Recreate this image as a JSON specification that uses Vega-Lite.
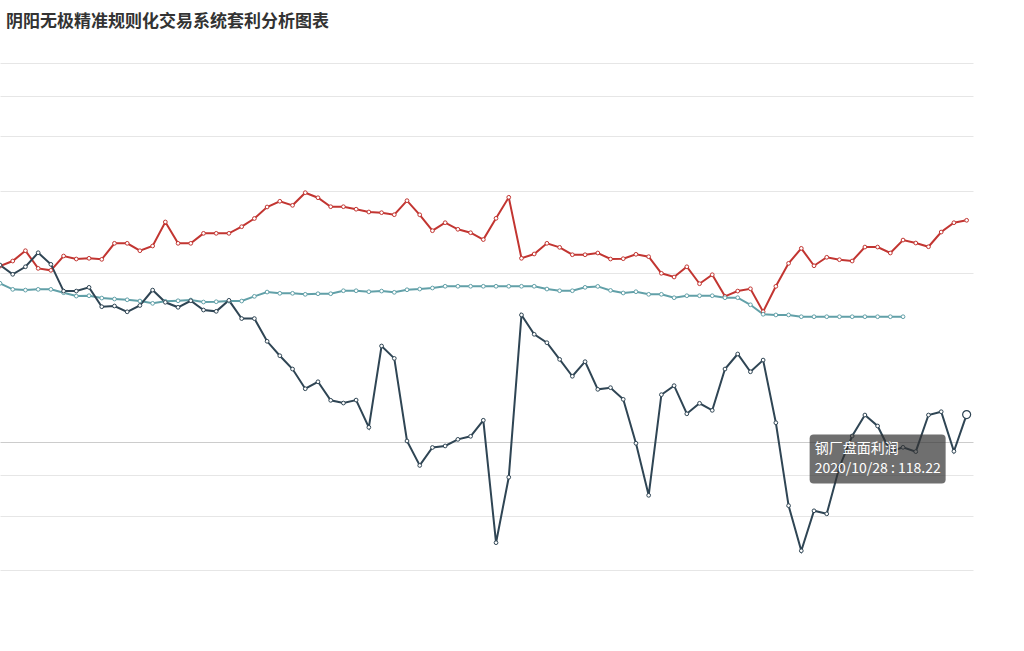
{
  "$schema": "https://vega.github.io/schema/vega-lite/v6.json",
  "width": 973,
  "height": 507,
  "autosize": {"type": "none"},
  "padding": {"left": 0, "top": 63, "right": 51, "bottom": 81},
  "background": "white",
  "config": {"font": "Noto Sans CJK SC", "view": {"stroke": null}},
  "title": {"text": "阴阳无极精准规则化交易系统套利分析图表", "anchor": "start", "frame": "group", "fontSize": 17, "fontWeight": "bold", "color": "#333333", "baseline": "bottom", "offset": 15, "dx": 6},
  "data": {"values": [
    {"d": "2020/07/06", "螺纹钢": 291.3, "钢厂成本": 262.4, "钢厂盘面利润": 293.2},
    {"d": "2020/07/07", "螺纹钢": 300.4, "钢厂成本": 252.9, "钢厂盘面利润": 277.1},
    {"d": "2020/07/08", "螺纹钢": 319.8, "钢厂成本": 251.8, "钢厂盘面利润": 290.1},
    {"d": "2020/07/09", "螺纹钢": 287.3, "钢厂成本": 252.9, "钢厂盘面利润": 315.9},
    {"d": "2020/07/10", "螺纹钢": 283.9, "钢厂成本": 252.9, "钢厂盘面利润": 294.4},
    {"d": "2020/07/13", "螺纹钢": 309.7, "钢厂成本": 247.8, "钢厂盘面利润": 250.3},
    {"d": "2020/07/14", "螺纹钢": 304.1, "钢厂成本": 242.8, "钢厂盘面利润": 250.3},
    {"d": "2020/07/15", "螺纹钢": 305.4, "钢厂成本": 243.3, "钢厂盘面利润": 256.0},
    {"d": "2020/07/16", "螺纹钢": 303.5, "钢厂成本": 239.9, "钢厂盘面利润": 227.6},
    {"d": "2020/07/17", "螺纹钢": 334.5, "钢厂成本": 238.5, "钢厂盘面利润": 228.6},
    {"d": "2020/07/20", "螺纹钢": 334.5, "钢厂成本": 237.4, "钢厂盘面利润": 220.7},
    {"d": "2020/07/21", "螺纹钢": 319.8, "钢厂成本": 235.6, "钢厂盘面利润": 229.3},
    {"d": "2020/07/22", "螺纹钢": 329.1, "钢厂成本": 232.3, "钢厂盘面利润": 251.8},
    {"d": "2020/07/23", "螺纹钢": 380.8, "钢厂成本": 235.2, "钢厂盘面利润": 233.8},
    {"d": "2020/07/24", "螺纹钢": 334.5, "钢厂成本": 236.0, "钢厂盘面利润": 226.8},
    {"d": "2020/07/27", "螺纹钢": 334.5, "钢厂成本": 237.0, "钢厂盘面利润": 236.0},
    {"d": "2020/07/28", "螺纹钢": 355.4, "钢厂成本": 234.2, "钢厂盘面利润": 223.1},
    {"d": "2020/07/29", "螺纹钢": 355.4, "钢厂成本": 234.6, "钢厂盘面利润": 221.3},
    {"d": "2020/07/30", "螺纹钢": 355.4, "钢厂成本": 235.6, "钢厂盘面利润": 236.6},
    {"d": "2020/07/31", "螺纹钢": 370.0, "钢厂成本": 235.6, "钢厂盘面利润": 211.8},
    {"d": "2020/08/03", "螺纹钢": 388.9, "钢厂成本": 242.4, "钢厂盘面利润": 211.8},
    {"d": "2020/08/04", "螺纹钢": 417.1, "钢厂成本": 248.8, "钢厂盘面利润": 184.5},
    {"d": "2020/08/05", "螺纹钢": 431.8, "钢厂成本": 246.9, "钢厂盘面利润": 169.0},
    {"d": "2020/08/06", "螺纹钢": 421.3, "钢厂成本": 246.9, "钢厂盘面利润": 155.9},
    {"d": "2020/08/07", "螺纹钢": 454.9, "钢厂成本": 245.4, "钢厂盘面利润": 138.3},
    {"d": "2020/08/10", "螺纹钢": 441.2, "钢厂成本": 246.3, "钢厂盘面利润": 144.3},
    {"d": "2020/08/11", "螺纹钢": 417.8, "钢厂成本": 246.3, "钢厂盘面利润": 128.9},
    {"d": "2020/08/12", "螺纹钢": 417.8, "钢厂成本": 250.8, "钢厂盘面利润": 126.8},
    {"d": "2020/08/13", "螺纹钢": 411.5, "钢厂成本": 250.8, "钢厂盘面利润": 129.1},
    {"d": "2020/08/14", "螺纹钢": 404.6, "钢厂成本": 249.3, "钢厂盘面利润": 109.4},
    {"d": "2020/08/17", "螺纹钢": 402.9, "钢厂成本": 250.3, "钢厂盘面利润": 179.3},
    {"d": "2020/08/18", "螺纹钢": 398.0, "钢厂成本": 248.4, "钢厂盘面利润": 166.3},
    {"d": "2020/08/19", "螺纹钢": 433.4, "钢厂成本": 252.3, "钢厂盘面利润": 100.7},
    {"d": "2020/08/20", "螺纹钢": 397.8, "钢厂成本": 253.4, "钢厂盘面利润": 86.8},
    {"d": "2020/08/21", "螺纹钢": 361.1, "钢厂成本": 255.0, "钢厂盘面利润": 96.8},
    {"d": "2020/08/24", "螺纹钢": 379.1, "钢厂成本": 257.7, "钢厂盘面利润": 97.7},
    {"d": "2020/08/25", "螺纹钢": 364.2, "钢厂成本": 257.7, "钢厂盘面利润": 101.7},
    {"d": "2020/08/26", "螺纹钢": 356.7, "钢厂成本": 257.7, "钢厂盘面利润": 103.6},
    {"d": "2020/08/27", "螺纹钢": 342.2, "钢厂成本": 257.7, "钢厂盘面利润": 114.2},
    {"d": "2020/08/28", "螺纹钢": 389.3, "钢厂成本": 257.7, "钢厂盘面利润": 54.3},
    {"d": "2020/08/31", "螺纹钢": 442.3, "钢厂成本": 257.7, "钢厂盘面利润": 80.8},
    {"d": "2020/09/01", "螺纹钢": 305.4, "钢厂成本": 257.7, "钢厂盘面利润": 216.5},
    {"d": "2020/09/02", "螺纹钢": 313.5, "钢厂成本": 257.7, "钢厂盘面利润": 192.5},
    {"d": "2020/09/03", "螺纹钢": 334.5, "钢厂成本": 253.4, "钢厂盘面利润": 182.9},
    {"d": "2020/09/04", "螺纹钢": 326.4, "钢厂成本": 250.8, "钢厂盘面利润": 165.3},
    {"d": "2020/09/07", "螺纹钢": 312.1, "钢厂成本": 250.8, "钢厂盘面利润": 149.2},
    {"d": "2020/09/08", "螺纹钢": 312.1, "钢厂成本": 256.0, "钢厂盘面利润": 163.0},
    {"d": "2020/09/09", "螺纹钢": 315.4, "钢厂成本": 257.5, "钢厂盘面利润": 137.8},
    {"d": "2020/09/10", "螺纹钢": 304.1, "钢厂成本": 251.3, "钢厂盘面利润": 139.2},
    {"d": "2020/09/11", "螺纹钢": 304.7, "钢厂成本": 247.4, "钢厂盘面利润": 129.7},
    {"d": "2020/09/14", "螺纹钢": 312.9, "钢厂成本": 249.3, "钢厂盘面利润": 99.3},
    {"d": "2020/09/15", "螺纹钢": 308.4, "钢厂成本": 245.4, "钢厂盘面利润": 72.4},
    {"d": "2020/09/16", "螺纹钢": 278.8, "钢厂成本": 245.4, "钢厂盘面利润": 133.4},
    {"d": "2020/09/17", "螺纹钢": 272.6, "钢厂成本": 240.4, "钢厂盘面利润": 140.9},
    {"d": "2020/09/18", "螺纹钢": 290.1, "钢厂成本": 243.3, "钢厂盘面利润": 118.8},
    {"d": "2020/09/21", "螺纹钢": 261.7, "钢厂成本": 243.3, "钢厂盘面利润": 126.6},
    {"d": "2020/09/22", "螺纹钢": 276.4, "钢厂成本": 243.3, "钢厂盘面利润": 121.3},
    {"d": "2020/09/23", "螺纹钢": 242.4, "钢厂成本": 240.4, "钢厂盘面利润": 155.9},
    {"d": "2020/09/24", "螺纹钢": 250.3, "钢厂成本": 240.4, "钢厂盘面利润": 170.8},
    {"d": "2020/09/25", "螺纹钢": 253.8, "钢厂成本": 230.3, "钢厂盘面利润": 153.3},
    {"d": "2020/09/28", "螺纹钢": 220.8, "钢厂成本": 217.4, "钢厂盘面利润": 164.6},
    {"d": "2020/09/29", "螺纹钢": 257.6, "钢厂成本": 216.5, "钢厂盘面利润": 112.5},
    {"d": "2020/09/30", "螺纹钢": 296.2, "钢厂成本": 216.5, "钢厂盘面利润": 68.0},
    {"d": "2020/10/09", "螺纹钢": 324.4, "钢厂成本": 214.2, "钢厂盘面利润": 51.7},
    {"d": "2020/10/12", "螺纹钢": 291.9, "钢厂成本": 214.2, "钢厂盘面利润": 65.9},
    {"d": "2020/10/13", "螺纹钢": 307.3, "钢厂成本": 214.2, "钢厂盘面利润": 64.7},
    {"d": "2020/10/14", "螺纹钢": 302.8, "钢厂成本": 214.2, "钢厂盘面利润": 86.0},
    {"d": "2020/10/15", "螺纹钢": 300.4, "钢厂成本": 214.2, "钢厂盘面利润": 103.8},
    {"d": "2020/10/16", "螺纹钢": 327.0, "钢厂成本": 214.2, "钢厂盘面利润": 117.9},
    {"d": "2020/10/19", "螺纹钢": 327.0, "钢厂成本": 214.2, "钢厂盘面利润": 110.3},
    {"d": "2020/10/20", "螺纹钢": 315.4, "钢厂成本": 214.2, "钢厂盘面利润": 94.5},
    {"d": "2020/10/21", "螺纹钢": 341.2, "钢厂成本": 214.2, "钢厂盘面利润": 96.9},
    {"d": "2020/10/22", "螺纹钢": 335.1, "钢厂盘面利润": 94.4},
    {"d": "2020/10/23", "螺纹钢": 327.6, "钢厂盘面利润": 117.9},
    {"d": "2020/10/26", "螺纹钢": 358.2, "钢厂盘面利润": 120.3},
    {"d": "2020/10/27", "螺纹钢": 379.1, "钢厂盘面利润": 94.6},
    {"d": "2020/10/28", "螺纹钢": 384.7, "钢厂盘面利润": 118.22}
  ]},
  "transform": [{"fold": ["螺纹钢", "钢厂成本", "钢厂盘面利润"], "as": ["series", "value"]}],
  "encoding": {
    "x": {"field": "d", "type": "ordinal", "scale": {"type": "point", "padding": 0.25, "align": 0}, "axis": null},
    "y": {"field": "value", "type": "quantitative", "scale": {"type": "log", "domain": [46, 1000], "nice": false},
      "axis": {"values": [1000, 820, 640, 460, 280, 100, 82, 64, 46], "labels": false, "ticks": false, "domain": false, "grid": true, "title": null,
        "gridColor": {"condition": {"test": "datum.value === 100", "value": "#cccccc"}, "value": "#e6e6e6"}, "gridWidth": 1}}
  },
  "layer": [
    {"mark": {"type": "line", "strokeWidth": 2, "point": {"filled": false, "fill": "white", "size": 14, "strokeWidth": 1, "opacity": 1}},
     "encoding": {"color": {"field": "series", "type": "nominal", "scale": {"domain": ["螺纹钢", "钢厂盘面利润", "钢厂成本"], "range": ["#c23531", "#2f4554", "#61a0a8"]}, "legend": null}}},
    {"transform": [{"filter": "datum.d === '2020/10/28' && datum.series === '钢厂盘面利润'"}],
     "mark": {"type": "point", "filled": false, "fill": "white", "stroke": "#2f4554", "size": 64, "strokeWidth": 1.2, "opacity": 1}},
    {"transform": [{"filter": "datum.d === '2020/10/28' && datum.series === '钢厂盘面利润'"}],
     "mark": {"type": "point", "shape": "M -153 20 L -25 20 Q -21 20 -21 24 L -21 65 Q -21 69 -25 69 L -153 69 Q -157 69 -157 65 L -157 24 Q -157 20 -153 20 Z", "size": 4, "filled": true, "fill": "#323232", "fillOpacity": 0.7, "strokeWidth": 0, "opacity": 1}},
    {"transform": [{"filter": "datum.d === '2020/10/28' && datum.series === '钢厂盘面利润'"}],
     "mark": {"type": "text", "text": "钢厂盘面利润", "align": "left", "baseline": "middle", "dx": -152, "dy": 34, "fontSize": 14, "color": "white"}},
    {"transform": [{"filter": "datum.d === '2020/10/28' && datum.series === '钢厂盘面利润'"}],
     "mark": {"type": "text", "text": "2020/10/28 : 118.22", "align": "left", "baseline": "middle", "dx": -152, "dy": 54, "fontSize": 14, "color": "white"}}
  ]
}
